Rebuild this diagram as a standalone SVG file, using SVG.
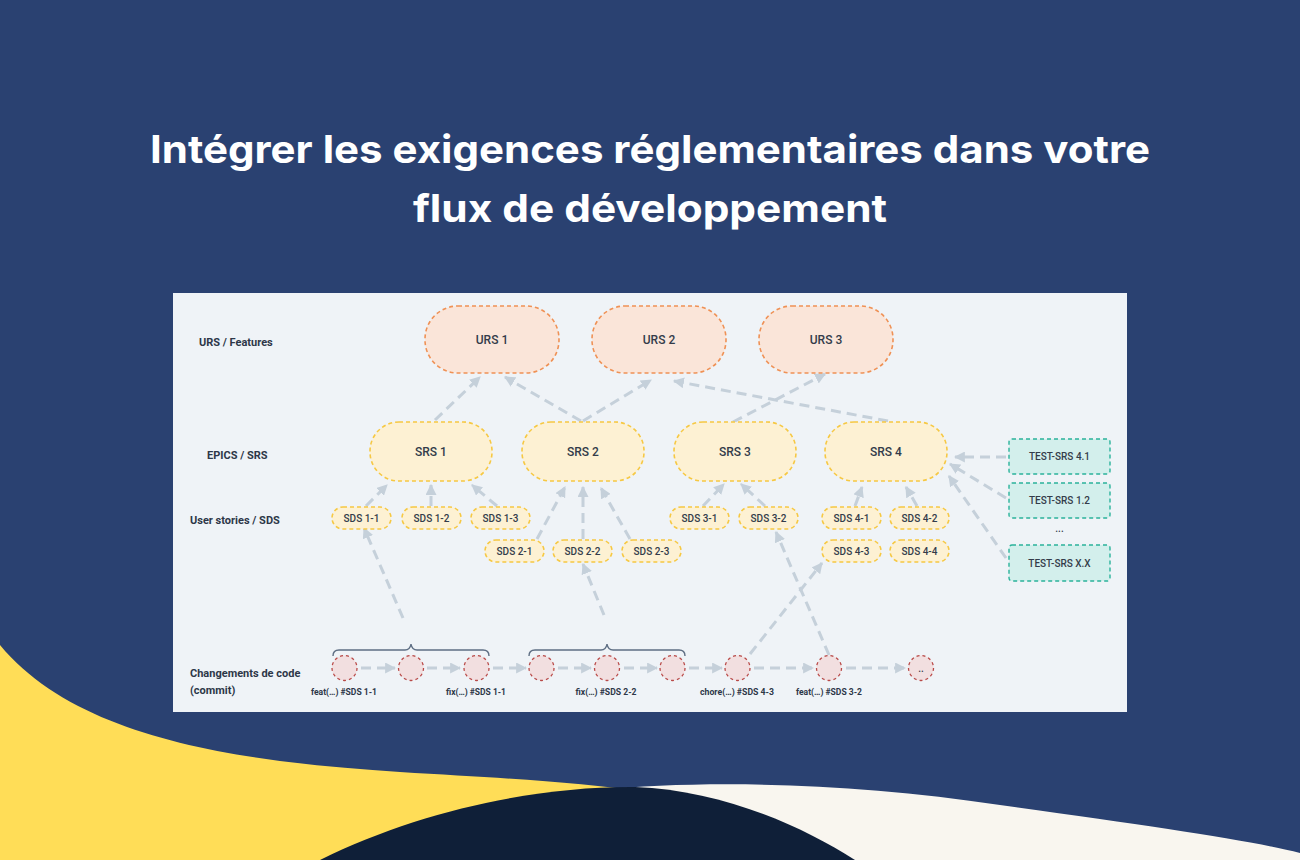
<svg xmlns="http://www.w3.org/2000/svg" width="1300" height="860" viewBox="0 0 1300 860">
<defs>
<style>
.title{font-family:Inter,"Open Sans","Liberation Sans",sans-serif;font-weight:700;font-size:38px;fill:#ffffff}
.row{font-family:Roboto,"Liberation Sans",sans-serif;font-weight:700;font-size:11px;fill:#2d3748}
.urs rect{fill:#fae5d9;stroke:#ef9155;stroke-width:1.6;stroke-dasharray:4 3}
.srs rect{fill:#fdf1d3;stroke:#f6c843;stroke-width:1.6;stroke-dasharray:4 3}
.sds rect{fill:#fdf1d3;stroke:#f6c843;stroke-width:1.6;stroke-dasharray:4 3}
.test rect{fill:#d3efec;stroke:#2bb39b;stroke-width:1.4;stroke-dasharray:4 3}
.commit circle{fill:#f2dfe0;stroke:#b94a48;stroke-width:1.3;stroke-dasharray:3 3}
.lbl{font-family:Roboto,"Liberation Sans",sans-serif;font-weight:500;font-size:12px;fill:#333c4a;text-anchor:middle}
.slbl{font-family:Roboto,"Liberation Sans",sans-serif;font-weight:500;font-size:10px;fill:#333c4a;text-anchor:middle}
.clbl{font-family:Roboto,"Liberation Sans",sans-serif;font-weight:700;font-size:8.5px;fill:#2d3748;text-anchor:middle}
.conn line{stroke:#c5d0da;stroke-width:3;stroke-dasharray:10 6;fill:none;marker-end:url(#ah)}
.brace{fill:none;stroke:#5f6f84;stroke-width:1.4}
</style>
<marker id="ah" viewBox="0 0 10 10" refX="9" refY="5" markerWidth="11" markerHeight="11" markerUnits="userSpaceOnUse" orient="auto">
<path d="M0,0 L10,5 L0,10 z" fill="#c5d0da"/>
</marker>
</defs>

<!-- background -->
<rect x="0" y="0" width="1300" height="860" fill="#2a4171"/>
<path d="M0,645 C80,742 250,762 400,772 C500,778 580,782 645,792 L645,860 L0,860 Z" fill="#ffdd57"/>
<path d="M600,790 C700,780 850,782 1000,805 C1150,826 1250,840 1300,853 L1300,860 L600,860 Z" fill="#f9f6ef"/>
<path d="M320,860 C420,810 540,786 635,787 C720,790 800,825 855,860 Z" fill="#0f1f38"/>

<!-- title -->
<text class="title" x="650" y="163" text-anchor="middle" textLength="1000" lengthAdjust="spacingAndGlyphs">Intégrer les exigences réglementaires dans votre</text>
<text class="title" x="650" y="222" text-anchor="middle" textLength="474" lengthAdjust="spacingAndGlyphs">flux de développement</text>

<!-- panel -->
<rect x="173" y="293" width="954" height="419" fill="#eff3f7"/>

<!-- row labels -->
<text class="row" x="199" y="346">URS / Features</text>
<text class="row" x="207" y="459">EPICS / SRS</text>
<text class="row" x="190" y="524">User stories / SDS</text>
<text class="row" x="190" y="677">Changements de code</text>
<text class="row" x="190" y="694">(commit)</text>

<!-- connectors -->
<g id="connectors" class="conn">
<line x1="435" y1="420" x2="480" y2="377"/>
<line x1="581" y1="421" x2="505" y2="377"/>
<line x1="583" y1="421" x2="651" y2="380"/>
<line x1="888" y1="421" x2="674" y2="381"/>
<line x1="733" y1="422" x2="825" y2="374"/>
<line x1="366" y1="506" x2="387" y2="485"/>
<line x1="431" y1="506" x2="431" y2="485"/>
<line x1="497" y1="506" x2="472" y2="485"/>
<line x1="537" y1="539" x2="565" y2="487"/>
<line x1="583" y1="539" x2="583" y2="487"/>
<line x1="630" y1="539" x2="601" y2="488"/>
<line x1="703" y1="506" x2="724" y2="484"/>
<line x1="765" y1="506" x2="741" y2="484"/>
<line x1="855" y1="506" x2="862" y2="487"/>
<line x1="917" y1="506" x2="906" y2="487"/>
<line x1="1006" y1="457" x2="955" y2="457"/>
<line x1="1006" y1="498" x2="950" y2="464"/>
<line x1="1006" y1="558" x2="949" y2="476"/>
<line x1="403" y1="618" x2="364" y2="528"/>
<line x1="604" y1="615" x2="583" y2="564"/>
<line x1="750" y1="654" x2="822" y2="563"/>
<line x1="829" y1="655" x2="776" y2="532"/>
<line x1="361" y1="668" x2="395" y2="668"/>
<line x1="427" y1="668" x2="460" y2="668"/>
<line x1="493" y1="668" x2="526" y2="668"/>
<line x1="558" y1="668" x2="591" y2="668"/>
<line x1="624" y1="668" x2="657" y2="668"/>
<line x1="689" y1="668" x2="722" y2="668"/>
<line x1="754" y1="668" x2="813" y2="668"/>
<line x1="846" y1="668" x2="905" y2="668"/>
</g>

<!-- braces -->
<path class="brace" d="M333,656 Q333,650 339,650 L405,650 Q410,650 411,644 Q412,650 417,650 L483,650 Q489,650 489,656"/>
<path class="brace" d="M529,656 Q529,650 535,650 L601,650 Q606,650 607,644 Q608,650 613,650 L679,650 Q685,650 685,656"/>

<!-- URS -->
<g id="urs1" class="urs"><rect x="425" y="306" width="134" height="67" rx="33"/><text class="lbl" x="492" y="344">URS 1</text></g>
<g id="urs2" class="urs"><rect x="592" y="306" width="134" height="67" rx="33"/><text class="lbl" x="659" y="344">URS 2</text></g>
<g id="urs3" class="urs"><rect x="759" y="306" width="134" height="67" rx="33"/><text class="lbl" x="826" y="344">URS 3</text></g>

<!-- SRS -->
<g id="srs1" class="srs"><rect x="370" y="422" width="122" height="59" rx="29"/><text class="lbl" x="431" y="456">SRS 1</text></g>
<g id="srs2" class="srs"><rect x="522" y="422" width="122" height="59" rx="29"/><text class="lbl" x="583" y="456">SRS 2</text></g>
<g id="srs3" class="srs"><rect x="674" y="422" width="122" height="59" rx="29"/><text class="lbl" x="735" y="456">SRS 3</text></g>
<g id="srs4" class="srs"><rect x="825" y="422" width="122" height="59" rx="29"/><text class="lbl" x="886" y="456">SRS 4</text></g>

<!-- SDS -->
<g id="sds11" class="sds"><rect x="332" y="507" width="59" height="22" rx="11"/><text class="slbl" x="361.5" y="522">SDS 1-1</text></g>
<g id="sds12" class="sds"><rect x="402" y="507" width="59" height="22" rx="11"/><text class="slbl" x="431.5" y="522">SDS 1-2</text></g>
<g id="sds13" class="sds"><rect x="471" y="507" width="59" height="22" rx="11"/><text class="slbl" x="500.5" y="522">SDS 1-3</text></g>
<g id="sds21" class="sds"><rect x="485" y="540" width="59" height="22" rx="11"/><text class="slbl" x="514.5" y="555">SDS 2-1</text></g>
<g id="sds22" class="sds"><rect x="553" y="540" width="59" height="22" rx="11"/><text class="slbl" x="582.5" y="555">SDS 2-2</text></g>
<g id="sds23" class="sds"><rect x="622" y="540" width="59" height="22" rx="11"/><text class="slbl" x="651.5" y="555">SDS 2-3</text></g>
<g id="sds31" class="sds"><rect x="670" y="507" width="59" height="22" rx="11"/><text class="slbl" x="699.5" y="522">SDS 3-1</text></g>
<g id="sds32" class="sds"><rect x="739" y="507" width="59" height="22" rx="11"/><text class="slbl" x="768.5" y="522">SDS 3-2</text></g>
<g id="sds41" class="sds"><rect x="822" y="507" width="59" height="22" rx="11"/><text class="slbl" x="851.5" y="522">SDS 4-1</text></g>
<g id="sds42" class="sds"><rect x="890" y="507" width="59" height="22" rx="11"/><text class="slbl" x="919.5" y="522">SDS 4-2</text></g>
<g id="sds43" class="sds"><rect x="822" y="540" width="59" height="22" rx="11"/><text class="slbl" x="851.5" y="555">SDS 4-3</text></g>
<g id="sds44" class="sds"><rect x="890" y="540" width="59" height="22" rx="11"/><text class="slbl" x="919.5" y="555">SDS 4-4</text></g>

<!-- TEST -->
<g id="test41" class="test"><rect x="1009" y="439" width="101" height="35" rx="3"/><text class="slbl" x="1059.5" y="460">TEST-SRS 4.1</text></g>
<g id="test12" class="test"><rect x="1009" y="483" width="101" height="35" rx="3"/><text class="slbl" x="1059.5" y="504">TEST-SRS 1.2</text></g>
<text class="slbl" x="1059.5" y="532">...</text>
<g id="testxx" class="test"><rect x="1009" y="545" width="101" height="36" rx="3"/><text class="slbl" x="1059.5" y="567">TEST-SRS X.X</text></g>

<!-- commits -->
<g id="c1" class="commit"><circle cx="344.5" cy="668" r="12.5"/></g>
<g id="c2" class="commit"><circle cx="411" cy="668" r="12.5"/></g>
<g id="c3" class="commit"><circle cx="476.5" cy="668" r="12.5"/></g>
<g id="c4" class="commit"><circle cx="541.5" cy="668" r="12.5"/></g>
<g id="c5" class="commit"><circle cx="607" cy="668" r="12.5"/></g>
<g id="c6" class="commit"><circle cx="672.5" cy="668" r="12.5"/></g>
<g id="c7" class="commit"><circle cx="737.5" cy="668" r="12.5"/></g>
<g id="c8" class="commit"><circle cx="829" cy="668" r="12.5"/></g>
<g id="c9" class="commit"><circle cx="921" cy="668" r="12.5"/><text class="slbl" x="921" y="672">..</text></g>

<text class="clbl" x="344" y="695" textLength="66" lengthAdjust="spacingAndGlyphs">feat(…) #SDS 1-1</text>
<text class="clbl" x="476" y="695" textLength="60" lengthAdjust="spacingAndGlyphs">fix(…) #SDS 1-1</text>
<text class="clbl" x="606" y="695" textLength="61" lengthAdjust="spacingAndGlyphs">fix(…) #SDS 2-2</text>
<text class="clbl" x="737" y="695" textLength="74" lengthAdjust="spacingAndGlyphs">chore(…) #SDS 4-3</text>
<text class="clbl" x="829" y="695" textLength="66" lengthAdjust="spacingAndGlyphs">feat(…) #SDS 3-2</text>
</svg>
